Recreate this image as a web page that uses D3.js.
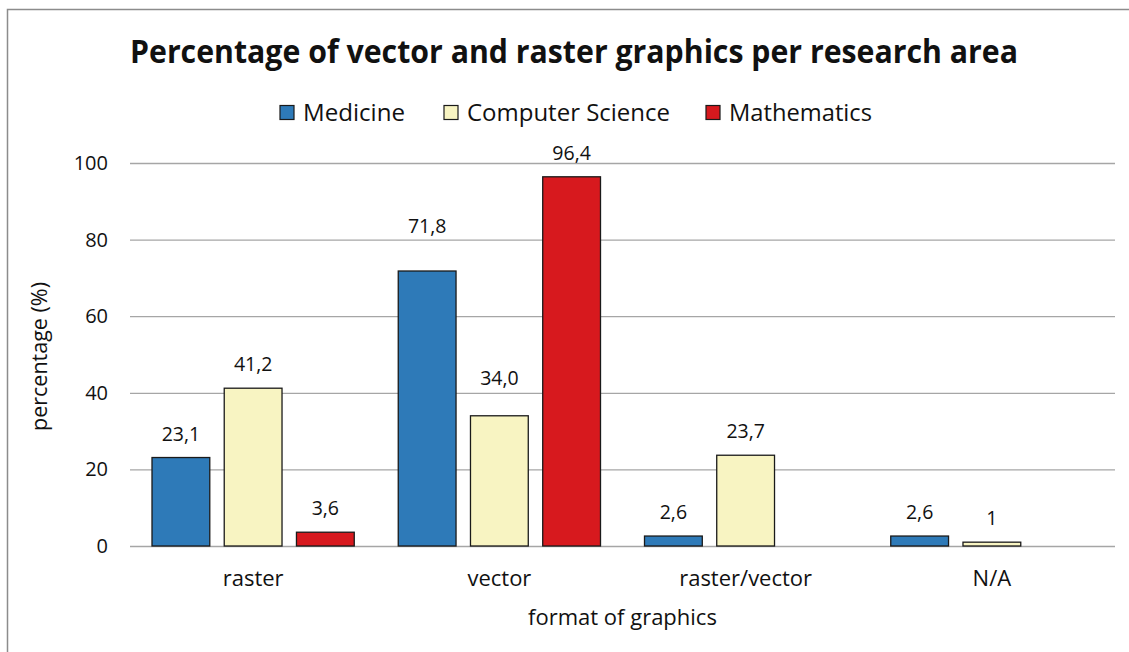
<!DOCTYPE html>
<html>
<head>
<meta charset="utf-8">
<script src="https://cdn.jsdelivr.net/npm/d3@7"></script>
<style>
  html, body { margin: 0; padding: 0; background: #fff; }
  svg { display: block; }
  text { font-family: "Open Sans", "Noto Sans", sans-serif; fill: #111; }
</style>
</head>
<body>
<svg id="chart" width="1129" height="652"></svg>
<script>
const categories = ["raster", "vector", "raster/vector", "N/A"];
const seriesNames = ["Medicine", "Computer Science", "Mathematics"];
const medicine = [23.1, 71.8, 2.6, 2.6];
const computerScience = [41.2, 34.0, 23.7, 1];
const mathematics = [3.6, 96.4, null, null];
const valueLabels = [
  ["23,1", "71,8", "2,6", "2,6"],
  ["41,2", "34,0", "23,7", "1"],
  ["3,6", "96,4", null, null]
];
const yTicks = [0, 20, 40, 60, 80, 100];
const colors = ["#2e7ab8", "#f8f4c2", "#d7191e"];

const seriesValues = [medicine, computerScience, mathematics];

const svg = d3.select("#chart");
const m = { left: 130, right: 1115, top: 163, bottom: 546 };

// outer border
svg.append("rect").attr("x", 7.5).attr("y", 9.5).attr("width", 1140).attr("height", 700)
  .attr("fill", "none").attr("stroke", "#8c8c8c").attr("stroke-width", 1.5);

const x0 = d3.scaleBand().domain(categories).range([m.left, m.right]).paddingInner(0).paddingOuter(0);
const x1 = d3.scaleBand().domain(seriesNames).range([22, x0.bandwidth() - 22]).paddingInner(0.2).paddingOuter(0);
const y = d3.scaleLinear().domain([0, 100]).range([m.bottom, m.top]);

// gridlines
const yAxis = d3.axisLeft(y).tickValues(yTicks).tickSize(-(m.right - m.left)).tickPadding(22);
const gy = svg.append("g").attr("transform", `translate(${m.left},0)`).call(yAxis);
gy.select(".domain").remove();
gy.selectAll(".tick line").attr("stroke", "#a6a6a6").attr("stroke-width", 1.3);
gy.selectAll(".tick text").attr("font-size", 20).attr("fill", "#111")
  .style("font-family", '"Open Sans", sans-serif');

// label lift above bar top (Excel placed a couple of labels higher)
function labelLift(si, ci) {
  if (si === 0 && ci === 1) return 38;
  if (si === 1 && ci === 1) return 31;
  return 17;
}

// bars
seriesValues.forEach((vals, si) => {
  const g = svg.append("g");
  categories.forEach((c, ci) => {
    const v = vals[ci];
    if (v === null) return;
    const bx = x0(c) + x1(seriesNames[si]);
    g.append("rect")
      .attr("x", bx).attr("y", y(v))
      .attr("width", x1.bandwidth()).attr("height", y(0) - y(v))
      .attr("fill", colors[si]).attr("stroke", "#1a1a1a").attr("stroke-width", 1.3);
    g.append("text")
      .attr("x", bx + x1.bandwidth() / 2).attr("y", y(v) - labelLift(si, ci))
      .attr("text-anchor", "middle").attr("font-size", 19.5)
      .text(valueLabels[si][ci]);
  });
});

// x axis labels
const xAxis = d3.axisBottom(x0).tickSize(0).tickPadding(24);
const gx = svg.append("g").attr("transform", `translate(0,${m.bottom})`).call(xAxis);
gx.select(".domain").remove();
gx.selectAll(".tick text").attr("font-size", 22).attr("fill", "#111")
  .style("font-family", '"Open Sans", sans-serif');

// axis titles
svg.append("text").attr("x", (m.left + m.right) / 2).attr("y", 625)
  .attr("text-anchor", "middle").attr("font-size", 22).text("format of graphics");
svg.append("text").attr("transform", `translate(47,${(m.top + m.bottom) / 2 + 2}) rotate(-90)`)
  .attr("text-anchor", "middle").attr("font-size", 21.5).text("percentage (%)");

// title
svg.append("text").attr("x", 574).attr("y", 63).attr("text-anchor", "middle")
  .attr("font-size", 32).attr("font-weight", "bold")
  .attr("textLength", 888).attr("lengthAdjust", "spacingAndGlyphs")
  .text("Percentage of vector and raster graphics per research area");

// legend
const legendX = [280, 444, 706];
const legendTextW = [102, 203, 143];
seriesNames.forEach((n, i) => {
  svg.append("rect").attr("x", legendX[i]).attr("y", 105.5).attr("width", 14).attr("height", 14)
    .attr("fill", colors[i]).attr("stroke", "#1a1a1a").attr("stroke-width", 1.2);
  svg.append("text").attr("x", legendX[i] + 23).attr("y", 121).attr("font-size", 23)
    .attr("textLength", legendTextW[i]).attr("lengthAdjust", "spacingAndGlyphs")
    .text(n);
});
</script>
</body>
</html>
